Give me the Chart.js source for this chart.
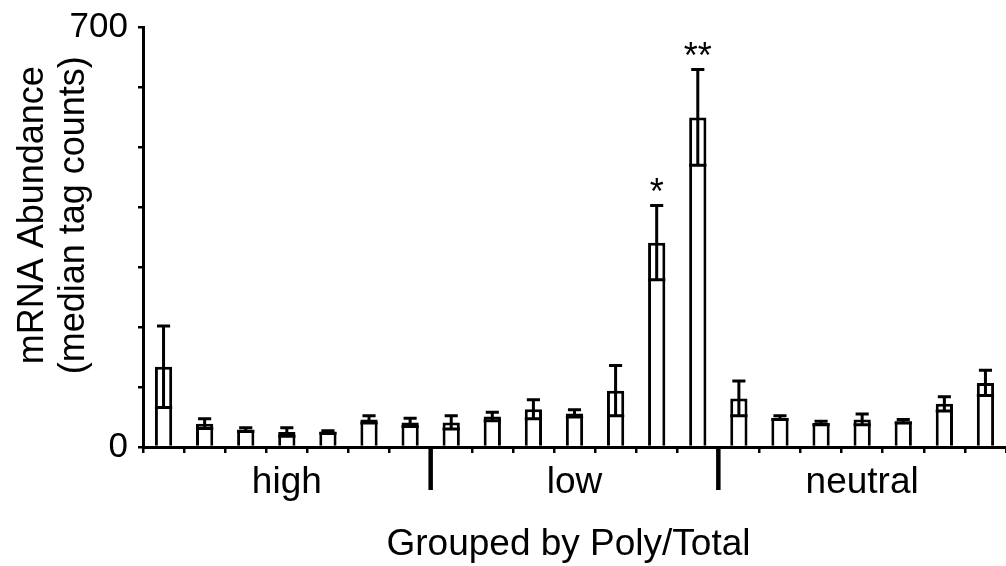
<!DOCTYPE html>
<html>
<head>
<meta charset="utf-8">
<script src="https://cdn.jsdelivr.net/npm/chart.js@4/dist/chart.umd.min.js"></script>
<style>
  html, body { margin: 0; padding: 0; background: #fff; }
  #wrap { width: 1006px; height: 566px; }
</style>
</head>
<body>
<div id="wrap"><canvas id="c" width="1006" height="566"></canvas></div>
<script>
'use strict';

// ── data ──────────────────────────────────────
const categories = ['H1','H2','H3','H4','H5','H6','H7',
                    'L1','L2','L3','L4','L5','L6','L7',
                    'N1','N2','N3','N4','N5','N6','N7'];
const values = [134, 39, 29, 25, 25, 46, 41,
                41, 51, 63, 56, 94, 341, 550,
                81, 49, 40, 46, 43, 72, 107];
const errors = [68, 8, 3, 7, 2, 6, 7,
                11, 7, 16, 6, 42, 62, 80,
                29, 3, 3, 9, 3, 12, 21];
const marks  = ['', '', '', '', '', '', '',
                '', '', '', '', '', '*', '**',
                '', '', '', '', '', '', ''];
const groups    = ['high', 'low', 'neutral'];
const groupSize = 7;
const yTicksShown = [0, 700];
const yTitle = ['mRNA Abundance', '(median tag counts)'];
const xTitle = 'Grouped by Poly/Total';

const FONT = "'Liberation Sans', Arial, sans-serif";
Chart.defaults.font.family = FONT;
Chart.defaults.color = '#000';

// error bars, significance stars, group separators and titles
const annot = {
  id: 'annot',
  afterDatasetsDraw(chart) {
    const { ctx, scales: { x, y } } = chart;
    const meta = chart.getDatasetMeta(0);
    ctx.save();
    ctx.strokeStyle = '#000';
    ctx.fillStyle = '#000';
    ctx.lineWidth = 3;
    ctx.font = '36px ' + FONT;
    ctx.textAlign = 'center';
    ctx.textBaseline = 'alphabetic';
    values.forEach((v, i) => {
      const cx = x.getPixelForValue(i);
      const bw = meta.data[i].width;
      const hi = y.getPixelForValue(v + errors[i]);
      const lo = y.getPixelForValue(v - errors[i]);
      ctx.beginPath();
      ctx.moveTo(cx, lo); ctx.lineTo(cx, hi);
      ctx.moveTo(cx - bw * 0.38, hi); ctx.lineTo(cx + bw * 0.38, hi);
      ctx.moveTo(cx - bw / 2, lo); ctx.lineTo(cx + bw / 2, lo);
      ctx.stroke();
      if (marks[i]) ctx.fillText(marks[i], cx, hi - 1);
    });
    ctx.restore();
  },
  afterDraw(chart) {
    const { ctx, scales: { x, y } } = chart;
    ctx.save();
    ctx.strokeStyle = '#000';
    ctx.fillStyle = '#000';

    // thick separators between groups
    ctx.lineWidth = 4.5;
    for (let g = 1; g < groups.length; g++) {
      const i = g * groupSize;
      const sx = (x.getPixelForValue(i - 1) + x.getPixelForValue(i)) / 2;
      ctx.beginPath();
      ctx.moveTo(sx, y.bottom);
      ctx.lineTo(sx, y.bottom + 43);
      ctx.stroke();
    }

    // group names
    ctx.font = '37px ' + FONT;
    ctx.textAlign = 'center';
    ctx.textBaseline = 'alphabetic';
    groups.forEach((name, g) => {
      const mid = g * groupSize + (groupSize - 1) / 2;
      ctx.fillText(name, x.getPixelForValue(mid), y.bottom + 46);
    });

    // x title
    ctx.fillText(xTitle, (x.left + x.right) / 2 - 6, y.bottom + 108);

    // y title (two lines, rotated)
    ctx.font = '36px ' + FONT;
    const yc = (y.top + y.bottom) / 2 - 22;
    [43, 84].forEach((bx, k) => {
      ctx.save();
      ctx.translate(bx, yc);
      ctx.rotate(-Math.PI / 2);
      ctx.fillText(yTitle[k], 0, 0);
      ctx.restore();
    });
    ctx.restore();
  }
};

new Chart(document.getElementById('c').getContext('2d'), {
  type: 'bar',
  data: {
    labels: categories,
    datasets: [{
      data: values,
      backgroundColor: '#fff',
      borderColor: '#000',
      borderWidth: 3,
      borderSkipped: 'start',
      barPercentage: 0.42,
      categoryPercentage: 1
    }]
  },
  options: {
    responsive: false,
    animation: false,
    devicePixelRatio: 1,
    layout: { padding: { top: 25, right: 0, bottom: 0, left: 0 } },
    plugins: { legend: { display: false }, tooltip: { enabled: false } },
    scales: {
      x: {
        grid: { offset: true, drawOnChartArea: false, color: '#000', lineWidth: 2.5, tickLength: 6 },
        border: { color: '#000', width: 3 },
        ticks: { display: false },
        afterFit: s => { s.height = 119; }
      },
      y: {
        min: 0, max: 700,
        grid: { drawOnChartArea: false, color: '#000', lineWidth: 2.5, tickLength: 5 },
        border: { color: '#000', width: 3 },
        ticks: {
          stepSize: 100, padding: 10, autoSkip: false,
          font: { size: 35, lineHeight: 1 },
          callback: v => yTicksShown.includes(v) ? String(v) : ''
        },
        afterFit: s => { s.width = 143; }
      }
    }
  },
  plugins: [annot]
});
</script>
</body>
</html>
